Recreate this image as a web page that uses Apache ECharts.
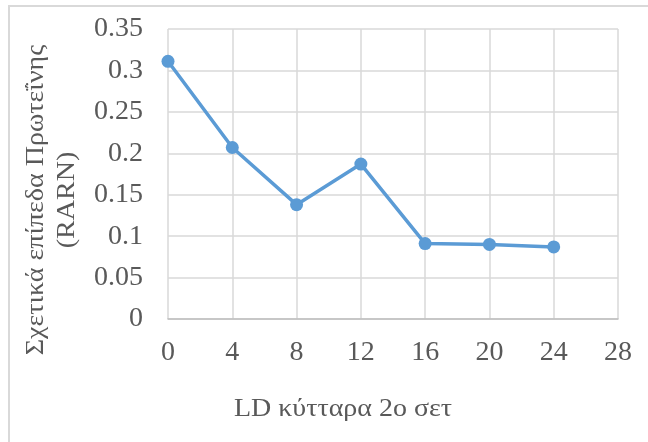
<!DOCTYPE html>
<html>
<head>
<meta charset="utf-8">
<script src="https://cdn.jsdelivr.net/npm/echarts@6/dist/echarts.min.js"></script>
<style>
  html, body { margin: 0; padding: 0; background: #ffffff; }
  #chart { width: 648px; height: 442px; }
</style>
</head>
<body>
<div id="chart"></div>
<script>
// Hours of the LD cycle (x values) and relative protein level (RARN)
const hours = [0, 4, 8, 12, 16, 20, 24];
const levels = [0.311, 0.207, 0.138, 0.187, 0.091, 0.090, 0.087];
const xTitle = 'LD κύτταρα 2ο σετ';
const yTitle = 'Σχετικά επίπεδα Πρωτεΐνης\n(RARN)';

const serif = "'Liberation Serif', 'Times New Roman', serif";
const textGray = '#595959';
const gridGray = '#d9d9d9';

const chart = echarts.init(document.getElementById('chart'), null, { renderer: 'canvas' });

chart.setOption({
  backgroundColor: '#ffffff',
  animation: false,
  grid: { left: 168, right: 30, top: 29, bottom: 123, containLabel: false },
  xAxis: {
    type: 'value',
    min: 0,
    max: 28,
    interval: 4,
    axisLine: { show: true, lineStyle: { color: '#bfbfbf', width: 1.5 } },
    axisTick: { show: false },
    axisLabel: { color: textGray, fontFamily: serif, fontSize: 28, margin: 20 },
    splitLine: { show: true, lineStyle: { color: gridGray, width: 1.5 } }
  },
  yAxis: {
    type: 'value',
    min: 0,
    max: 0.35,
    interval: 0.05,
    axisLine: { show: false },
    axisTick: { show: false },
    axisLabel: { color: textGray, fontFamily: serif, fontSize: 28, margin: 25 },
    splitLine: { show: true, lineStyle: { color: gridGray, width: 1.5 } }
  },
  series: [{
    type: 'line',
    data: hours.map((h, i) => [h, levels[i]]),
    symbol: 'circle',
    symbolSize: 13,
    lineStyle: { color: '#5b9bd5', width: 3.5 },
    itemStyle: { color: '#5b9bd5' }
  }],
  graphic: [
    {
      type: 'rect',
      shape: { x: 9, y: 6, width: 700, height: 500 },
      style: { fill: 'none', stroke: gridGray, lineWidth: 2 },
      silent: true
    },
    {
      type: 'text',
      x: 52,
      y: 200,
      rotation: Math.PI / 2,
      scaleY: 0.9,
      style: {
        text: yTitle,
        fill: textGray,
        font: '28px ' + serif,
        lineHeight: 34,
        align: 'center',
        verticalAlign: 'middle'
      }
    },
    {
      type: 'text',
      x: 343,
      y: 409,
      scaleY: 0.9,
      style: {
        text: xTitle,
        fill: textGray,
        font: '28px ' + serif,
        align: 'center',
        verticalAlign: 'middle'
      }
    }
  ]
});
</script>
</body>
</html>
